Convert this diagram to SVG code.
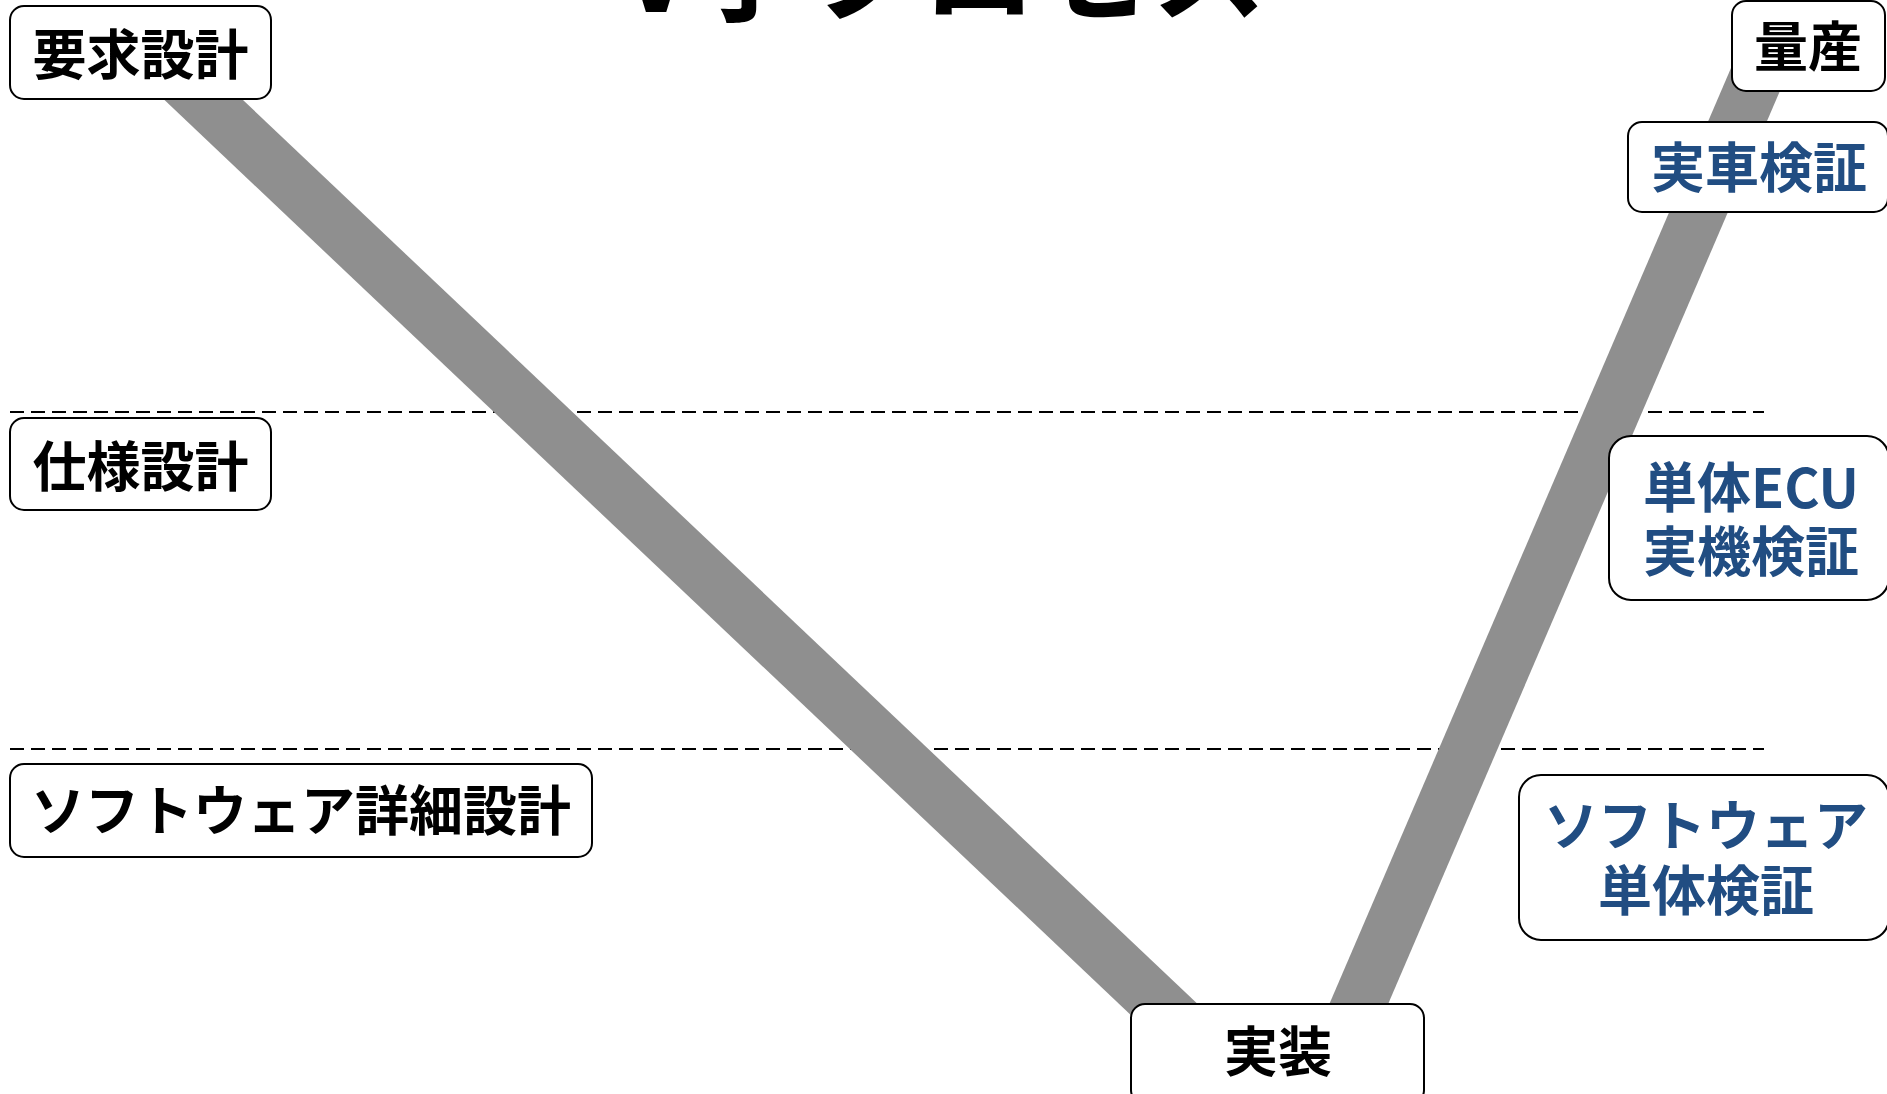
<svg xmlns="http://www.w3.org/2000/svg" width="1887" height="1094" viewBox="0 0 1887 1094">
<style>
.box{fill:#fff;stroke:#000;stroke-width:2}
.t{font-family:"Noto Sans CJK JP","Noto Sans",sans-serif;font-weight:bold;font-size:54px;text-anchor:middle;fill:#000}
.b{fill:#214d82}
.dash{stroke:#000;stroke-width:2.2;stroke-dasharray:14 7;fill:none}
.band{stroke:#8f8f8f;stroke-width:54;fill:none;stroke-linecap:butt}
</style>
<rect width="1887" height="1094" fill="#fff"/>
<text x="943.5" y="12" class="t" style="font-size:115px">V字プロセス</text>
<g id="guides">
<line class="dash" x1="10" y1="412" x2="1764" y2="412"/>
<line class="dash" x1="10" y1="749" x2="1764" y2="749"/>
</g>
<g id="connectors">
<line class="band" x1="153" y1="52" x2="1207" y2="1050"/>
<line class="band" x1="1339" y1="1050" x2="1769" y2="48"/>
</g>
<g id="n-youkyu">
<rect class="box" x="10" y="6" width="261" height="93" rx="14"/>
<text class="t" x="140.5" y="75">要求設計</text>
</g>
<g id="n-shiyou">
<rect class="box" x="10" y="418" width="261" height="92" rx="14"/>
<text class="t" x="140.5" y="487">仕様設計</text>
</g>
<g id="n-shousai">
<rect class="box" x="10" y="764" width="582" height="93" rx="14"/>
<text class="t" x="301" y="831">ソフトウェア詳細設計</text>
</g>
<g id="n-jissou">
<rect class="box" x="1131" y="1004" width="293" height="100" rx="14"/>
<text class="t" x="1278" y="1072">実装</text>
</g>
<g id="n-tantai">
<rect class="box" x="1519" y="775" width="370" height="165" rx="22"/>
<text class="t b" x="1706" y="846">ソフトウェア</text>
<text class="t b" x="1706" y="911">単体検証</text>
</g>
<g id="n-ecu">
<rect class="box" x="1609" y="436" width="280" height="164" rx="22"/>
<text class="t b" x="1751" y="508">単体ECU</text>
<text class="t b" x="1751" y="572">実機検証</text>
</g>
<g id="n-jissha">
<rect class="box" x="1628" y="122" width="260" height="90" rx="14"/>
<text class="t b" x="1759" y="188">実車検証</text>
</g>
<g id="n-ryousan">
<rect class="box" x="1732" y="1" width="153" height="90" rx="14"/>
<text class="t" x="1808" y="67">量産</text>
</g>
</svg>
